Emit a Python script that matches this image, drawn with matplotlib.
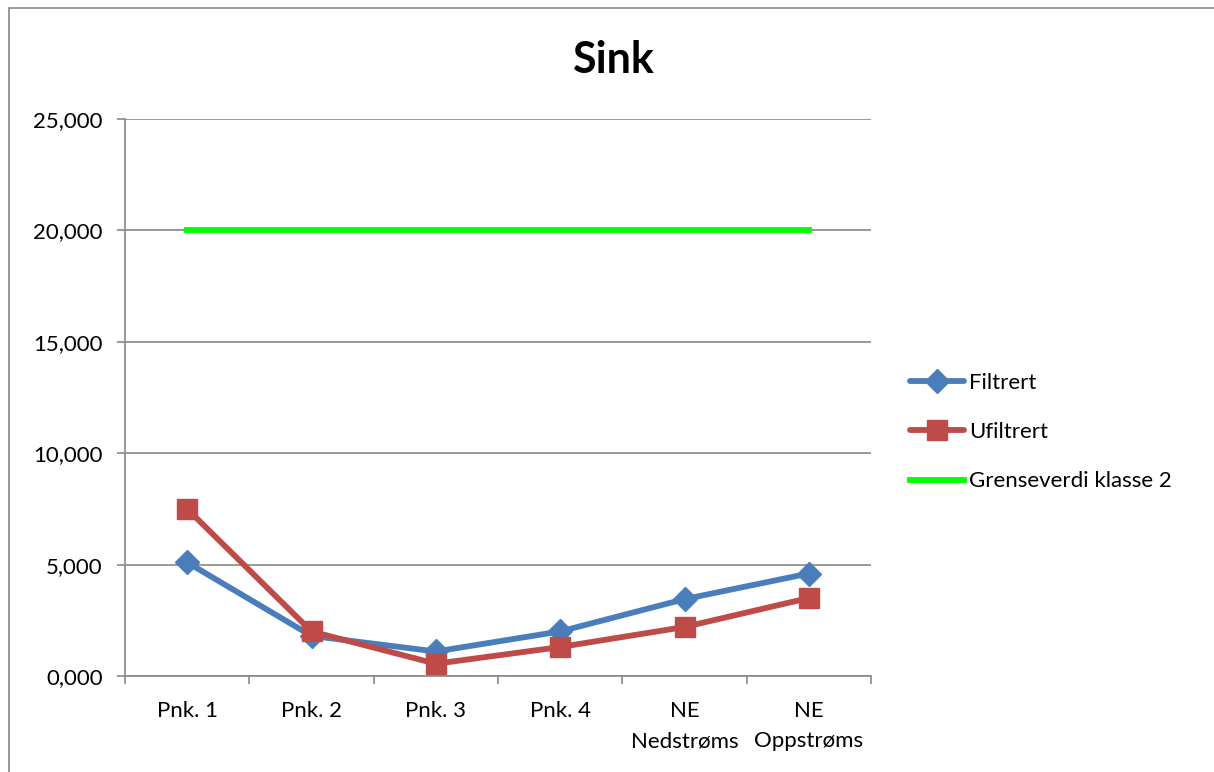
import matplotlib
matplotlib.use("Agg")
import matplotlib.pyplot as plt
from matplotlib.patches import Rectangle
import numpy as np

categories = ["Pnk. 1", "Pnk. 2", "Pnk. 3", "Pnk. 4", "NE\nNedstrøms", "NE\nOppstrøms"]
filtrert = [5.1, 1.8, 1.1, 2.0, 3.45, 4.6]
ufiltrert = [7.5, 2.0, 0.55, 1.3, 2.2, 3.5]
grenseverdi = [20, 20, 20, 20, 20, 20]
yticks = [0, 5, 10, 15, 20, 25]
ytick_labels = ["0,000", "5,000", "10,000", "15,000", "20,000", "25,000"]

plt.rcParams['font.family'] = ['Lato', 'DejaVu Sans']

fig = plt.figure(figsize=(12.14, 7.72), dpi=100)
fig.patches.append(Rectangle((9/1214, -0.01), 1.05, 1 - 8/772 + 0.01,
                             transform=fig.transFigure, fill=False,
                             edgecolor="#888888", linewidth=1.2))

ax = fig.add_axes([125/1214, (772-676)/772, (871-125)/1214, (676-119)/772])
x = np.arange(len(categories)) + 0.5

ax.plot(x, filtrert, color="#4A7EBB", linewidth=4.2, marker="D", markersize=12,
        label="Filtrert", solid_capstyle="round")
ax.plot(x, ufiltrert, color="#BE4B48", linewidth=4.2, marker="s", markersize=14,
        label="Ufiltrert", solid_capstyle="round")
ax.plot(x, grenseverdi, color="#00FF00", linewidth=4.2, label="Grenseverdi klasse 2")

ax.set_xlim(0, len(categories))
ax.set_ylim(0, 25)
ax.set_yticks(yticks)
ax.set_yticklabels(ytick_labels, fontsize=16)
ax.yaxis.grid(True, color="#888888", linewidth=1.2)
ax.set_axisbelow(True)

ax.set_xticks(np.arange(len(categories) + 1))
ax.set_xticklabels([])
ax.set_xticks(x, minor=True)
ax.set_xticklabels(categories, minor=True, fontsize=16, linespacing=1.65)
ax.tick_params(axis="x", which="minor", length=0, pad=18)
ax.tick_params(axis="x", which="major", length=6, color="#888888", width=1.2, direction="out")
ax.tick_params(axis="y", length=6, color="#888888", width=1.2, pad=10)

for s in ["top", "right"]:
    ax.spines[s].set_visible(False)
for s in ["left", "bottom"]:
    ax.spines[s].set_color("#888888")
    ax.spines[s].set_linewidth(1.2)

fig.text(613/1214, 1 - 60/772, "Sink", ha="center", va="center", fontsize=31, fontweight="bold")

leg = fig.legend(loc="center left", bbox_to_anchor=(910/1214, 1 - 432/772), frameon=False,
                 fontsize=16, handlelength=2.45, labelspacing=1.32, handletextpad=0.2,
                 borderpad=0, borderaxespad=0)

fig.savefig("out.png", dpi=100)
